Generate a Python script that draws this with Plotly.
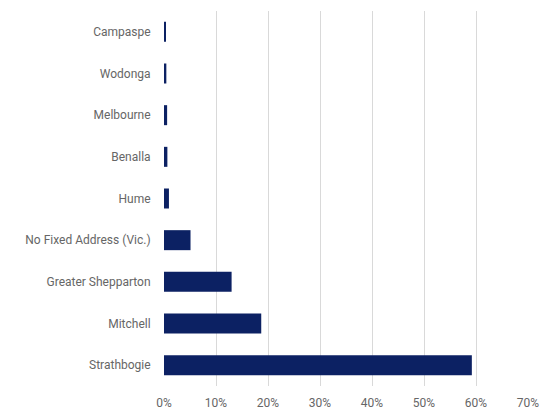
import plotly.graph_objects as go

# Share of records by local government area
areas = [
    "Campaspe",
    "Wodonga",
    "Melbourne",
    "Benalla",
    "Hume",
    "No Fixed Address (Vic.)",
    "Greater Shepparton",
    "Mitchell",
    "Strathbogie",
]
shares = [0.003, 0.0045, 0.006, 0.0065, 0.0095, 0.051, 0.130, 0.187, 0.592]

tick_values = [0, 0.1, 0.2, 0.3, 0.4, 0.5, 0.6, 0.7]
tick_labels = ["0%", "10%", "20%", "30%", "40%", "50%", "60%", "70%"]

fig = go.Figure(
    go.Bar(
        x=shares,
        y=areas,
        orientation="h",
        marker=dict(color="#0c2163", line=dict(width=0)),
        width=0.48,
    )
)

fig.update_layout(
    width=544,
    height=411,
    margin=dict(l=164, r=16, t=11, b=25),
    paper_bgcolor="white",
    plot_bgcolor="white",
    showlegend=False,
    font=dict(family="Roboto", size=12, color="#666666"),
    bargap=0.5,
)

fig.update_xaxes(
    range=[0, 0.7],
    tickvals=tick_values,
    ticktext=tick_labels,
    showgrid=True,
    gridcolor="#d9d9d9",
    gridwidth=1.2,
    zeroline=False,
    showline=False,
    ticks="outside",
    ticklen=6,
    tickcolor="rgba(0,0,0,0)",
    automargin=False,
)

fig.update_yaxes(
    categoryorder="array",
    categoryarray=areas[::-1],
    showgrid=False,
    zeroline=False,
    showline=False,
    ticks="outside",
    ticklen=10,
    tickcolor="rgba(0,0,0,0)",
    automargin=False,
)

fig.write_html("out.html")
